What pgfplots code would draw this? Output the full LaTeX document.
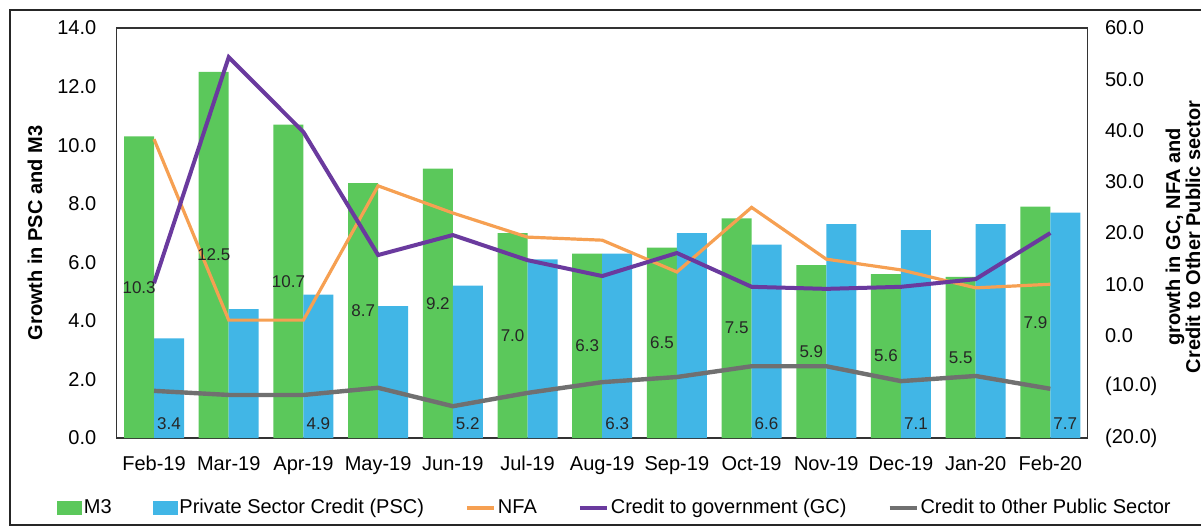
\documentclass[border=0pt]{standalone}
\usepackage{pgfplots}
\pgfplotsset{compat=1.18}
\usepackage{fontspec}
\setmainfont{Liberation Sans}
\definecolor{cgreen}{HTML}{5BC85B}
\definecolor{cblue}{HTML}{41B6E6}
\definecolor{corange}{HTML}{F6A052}
\definecolor{cpurple}{HTML}{6A3A9E}
\definecolor{cgray}{HTML}{707070}
\begin{document}
\begin{tikzpicture}
\pgfplotsset{
  base/.style={scale only axis, width=485.5pt, height=205pt,
    at={(58.35pt,44.5pt)}, anchor=south west,
    xmin=-0.5, xmax=12.5, major tick length=0pt,
    tick label style={font=\fontsize{10}{12}\selectfont},
    axis line style={black!80, line width=0.6pt}},
}
\begin{axis}[base, ymin=0, ymax=14,
  ytick={0,2,...,14}, yticklabels={0.0,2.0,4.0,6.0,8.0,10.0,12.0,14.0},
  xtick={0,...,12},
  xticklabels={Feb-19,Mar-19,Apr-19,May-19,Jun-19,Jul-19,Aug-19,Sep-19,Oct-19,Nov-19,Dec-19,Jan-20,Feb-20},
  yticklabel style={inner xsep=0pt, xshift=-10pt},
  xticklabel style={inner ysep=0pt, yshift=-9pt},
  ylabel={Growth in PSC and M3},
  ylabel style={font=\bfseries\fontsize{10}{12}\selectfont, at={(axis description cs:-0.0841,0.5)}, anchor=center}]
\addplot[ybar, bar width=15pt, bar shift=-7.5pt, fill=cgreen, draw=none] coordinates {
(0,10.3) (1,12.5) (2,10.7) (3,8.7) (4,9.2) (5,7.0) (6,6.3) (7,6.5) (8,7.5) (9,5.9) (10,5.6) (11,5.5) (12,7.9)};
\addplot[ybar, bar width=15pt, bar shift=7.5pt, fill=cblue, draw=none] coordinates {
(0,3.4) (1,4.4) (2,4.9) (3,4.5) (4,5.2) (5,6.1) (6,6.3) (7,7.0) (8,6.6) (9,7.3) (10,7.1) (11,7.3) (12,7.7)};
\end{axis}
\begin{axis}[base, ymin=-20, ymax=60,
  ytick={-20,-10,...,60},
  yticklabels={(20.0),(10.0),0.0,10.0,20.0,30.0,40.0,50.0,60.0},
  axis y line*=right, axis x line=none,
  yticklabel style={inner xsep=0pt, xshift=8.5pt, anchor=west},
  legend columns=5,
  legend style={draw=none, fill=none, at={(axis description cs:-0.0618,-0.171)}, anchor=west,
    inner sep=0pt, font=\fontsize{10}{12}\selectfont,
    /tikz/every even column/.append style={column sep=19.5pt},
    nodes={inner xsep=1pt, inner ysep=0pt}}]
\addlegendimage{legend image code/.code={\fill[cgreen] (0pt,-3.25pt) rectangle (12pt,3.25pt);}}
\addlegendentry{M3}
\addlegendimage{legend image code/.code={\fill[cblue] (0pt,-3.25pt) rectangle (12pt,3.25pt);}}
\addlegendentry{Private Sector Credit (PSC)}
\addplot[corange, line width=1.6pt, mark=none,
  legend image code/.code={\draw[corange, line width=2pt] (0pt,0pt) -- (13.5pt,0pt);}] coordinates {
(0,38.3) (1,3.0) (2,3.0) (3,29.2) (4,23.9) (5,19.2) (6,18.6) (7,12.4) (8,25.0) (9,14.9) (10,12.8) (11,9.3) (12,10.0)};
\addlegendentry{NFA}
\addplot[cpurple, line width=2pt, mark=none,
  legend image code/.code={\draw[cpurple, line width=2pt] (0pt,0pt) -- (13.5pt,0pt);}] coordinates {
(0,10.2) (1,54.3) (2,39.7) (3,15.7) (4,19.6) (5,14.7) (6,11.6) (7,16.1) (8,9.5) (9,9.1) (10,9.5) (11,11.0) (12,20.0)};
\addlegendentry{Credit to government (GC)}
\addplot[cgray, line width=2.2pt, mark=none,
  legend image code/.code={\draw[cgray, line width=2pt] (0pt,0pt) -- (13.5pt,0pt);}] coordinates {
(0,-10.8) (1,-11.6) (2,-11.6) (3,-10.2) (4,-13.8) (5,-11.2) (6,-9.1) (7,-8.1) (8,-6.0) (9,-6.0) (10,-8.9) (11,-7.9) (12,-10.4)};
\addlegendentry{Credit to 0ther Public Sector}
\end{axis}
\begin{axis}[base, ymin=0, ymax=14, hide axis]
\addplot[draw=none, mark=none, nodes near coords, point meta=explicit symbolic,
  nodes near coords align=center,
  every node near coord/.append style={font=\fontsize{8.5}{10}\selectfont, inner sep=0pt, text=black!85}]
  table[meta=lab] {
x y lab
-0.2 5.15 10.3
0.8 6.25 12.5
1.8 5.35 10.7
2.8 4.35 8.7
3.8 4.6 9.2
4.8 3.5 7.0
5.8 3.15 6.3
6.8 3.25 6.5
7.8 3.75 7.5
8.8 2.95 5.9
9.8 2.8 5.6
10.8 2.75 5.5
11.8 3.95 7.9
0.2 0.5 3.4
2.2 0.5 4.9
4.2 0.5 5.2
6.2 0.5 6.3
8.2 0.5 6.6
10.2 0.5 7.1
12.2 0.5 7.7
};
\end{axis}
\node[rotate=90, align=center, font=\bfseries\fontsize{10}{10}\selectfont] at (591.5pt,145pt) {growth in GC, NFA and\\Credit to Other Public sector};
\draw[black!85, line width=0.9pt] (5pt,0.9pt) rectangle (640pt,258.5pt);
\pgfresetboundingbox
\path[use as bounding box] (0,0) rectangle (600.5pt,263.5pt);
\end{tikzpicture}
\end{document}
